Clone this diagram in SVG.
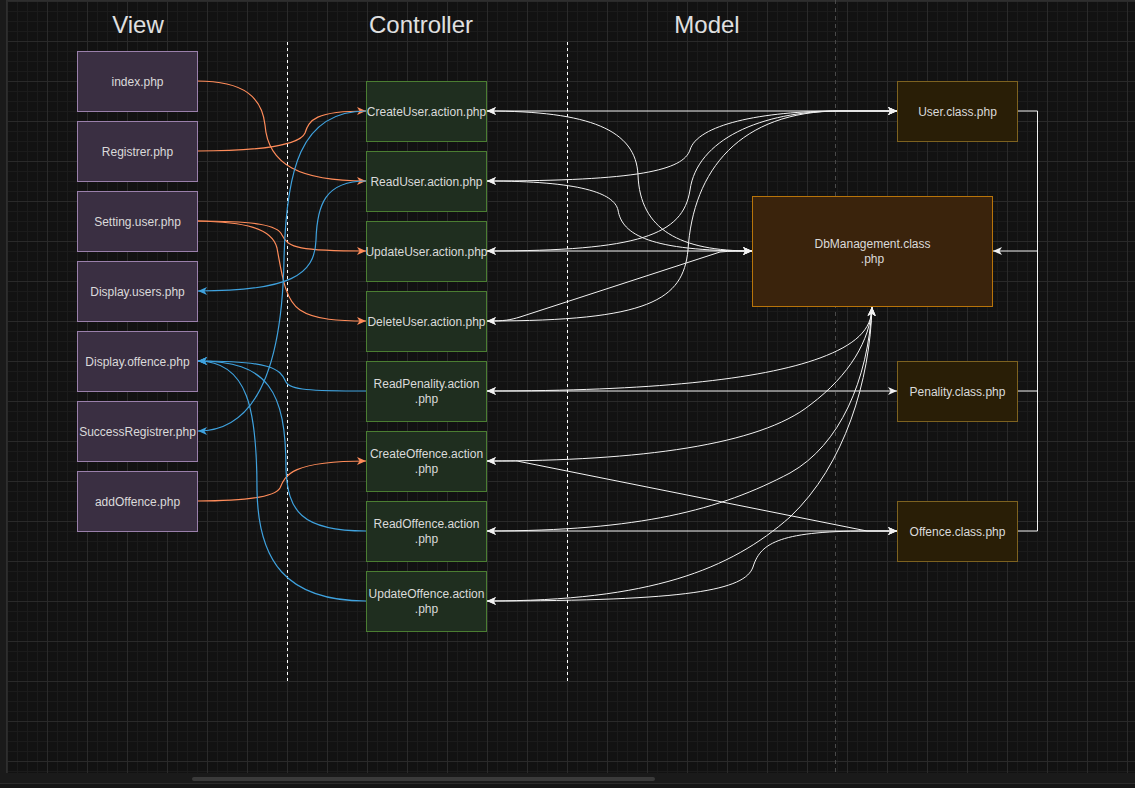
<svg xmlns="http://www.w3.org/2000/svg" width="1135" height="788" viewBox="0 0 1135 788">
  <defs>
    <pattern id="grid" patternUnits="userSpaceOnUse" x="7" y="1" width="40" height="40">
      <path d="M10.5 0V40M20.5 0V40M30.5 0V40M0 10.5H40M0 20.5H40M0 30.5H40" stroke="#1b1b1b" stroke-width="1" fill="none"/>
      <path d="M0.5 0V40M0 0.5H40" stroke="#2a2a2a" stroke-width="1" fill="none"/>
    </pattern>
    <marker id="aw" markerUnits="userSpaceOnUse" markerWidth="10" markerHeight="9" refX="9" refY="4.5" orient="auto-start-reverse">
      <path d="M0,0.5 L9,4.5 L0,8.5 L2.5,4.5 Z" fill="#f2f2f2"/>
    </marker>
    <marker id="ao" markerUnits="userSpaceOnUse" markerWidth="10" markerHeight="9" refX="9" refY="4.5" orient="auto">
      <path d="M0,0.5 L9,4.5 L0,8.5 L2.5,4.5 Z" fill="#ff8c5a"/>
    </marker>
    <marker id="ab" markerUnits="userSpaceOnUse" markerWidth="10" markerHeight="9" refX="9" refY="4.5" orient="auto">
      <path d="M0,0.5 L9,4.5 L0,8.5 L2.5,4.5 Z" fill="#3fa2de"/>
    </marker>
  </defs>
  <style>
    text { font-family: "Liberation Sans", Arial, sans-serif; fill: #dadada; font-size: 12px; text-anchor: middle; dominant-baseline: central; }
    .hdr { font-size: 24px; fill: #e0e0e0; }
    .view rect { fill: #3a2f42; stroke: #9a80ab; stroke-width: 1; }
    .ctrl rect { fill: #1f2e1f; stroke: #4b7e32; stroke-width: 1; }
    .cls rect { fill: #291e06; stroke: #7d6220; stroke-width: 1; }
    .db rect { fill: #3a230c; stroke: #b8740a; stroke-width: 1; }
    .w { fill: none; stroke: #f2f2f2; stroke-width: 1; }
    .o { fill: none; stroke: #ff8c5a; stroke-width: 1.2; marker-end: url(#ao); }
    .b { fill: none; stroke: #3fa2de; stroke-width: 1.2; }
  </style>

  <!-- workspace frame -->
  <rect x="0" y="0" width="1135" height="788" fill="#1a1a1a"/>
  <rect x="7" y="0" width="1128" height="773" fill="#121212"/>
  <rect x="7" y="0" width="1128" height="773" fill="url(#grid)"/>
  <line x1="6.5" y1="0" x2="6.5" y2="773" stroke="#2e2e2e"/>
  <line x1="7" y1="0.5" x2="1135" y2="0.5" stroke="#2e2e2e"/>
  <rect x="192" y="777" width="463" height="4" rx="2" fill="#3a3a3a"/>
  <line x1="0" y1="783.5" x2="1135" y2="783.5" stroke="#2c2c2c"/>
  <rect x="0" y="784" width="1135" height="4" fill="#151515"/>

  <!-- page break -->
  <line x1="835.5" y1="0" x2="835.5" y2="773" stroke="#4a4a4a" stroke-dasharray="4 4"/>

  <!-- lane separators -->
  <line x1="287.5" y1="42" x2="287.5" y2="682" stroke="#ffffff" stroke-dasharray="3 3"/>
  <line x1="567.5" y1="42" x2="567.5" y2="682" stroke="#ffffff" stroke-dasharray="3 3"/>

  <!-- lane headers -->
  <text class="hdr" x="138" y="24">View</text>
  <text class="hdr" x="421" y="24">Controller</text>
  <text class="hdr" x="707" y="24">Model</text>

  <!-- connectors -->
  <g id="connectors">
    <!-- view -> controller -->
    <path class="o" d="M197,81 C245,81 262,98 265,125 C268,165 300,181 366,181"/>
    <path class="o" d="M197,151 C260,151 300,145 305,133 C309,120 315,111 366,111"/>
    <path class="o" d="M197,221 C255,221 278,225 282,235 C288,248 300,251 366,251"/>
    <path class="o" d="M197,221 C245,222 272,228 277,248 C282,275 285,300 300,310 C315,320 340,321 366,321"/>
    <path class="o" d="M197,501 C245,501 275,497 280,488 C285,475 292,461 366,461"/>

    <!-- controller -> view -->
    <path class="b" marker-end="url(#ab)" d="M366,111 C300,111 286,170 284,260 C282,360 260,431 198,431"/>
    <path class="b" marker-end="url(#ab)" d="M366,181 C325,181 317,205 316,240 C315,275 290,291 198,291"/>
    <path class="b" marker-end="url(#ab)" d="M366,391 C310,391 290,390 286,382 C280,368 270,361 198,361"/>
    <path class="b" marker-end="url(#ab)" d="M366,531 C300,531 288,510 286,470 C286,390 268,361 198,361"/>
    <path class="b" marker-end="url(#ab)" d="M366,601 C285,601 258,560 257,490 C257,410 248,361 198,361"/>

    <!-- controller <-> User.class -->
    <path class="w" marker-start="url(#aw)" marker-end="url(#aw)" d="M487,111 L897,111"/>
    <path class="w" marker-start="url(#aw)" marker-end="url(#aw)" d="M487,181 C640,181 683,170 690,150 C697,125 760,111 840,111 L897,111"/>
    <path class="w" marker-start="url(#aw)" marker-end="url(#aw)" d="M487,251 C640,251 683,235 690,190 C697,140 760,111 840,111 L897,111"/>
    <path class="w" marker-start="url(#aw)" marker-end="url(#aw)" d="M487,321 C650,321 683,300 688,250 C693,170 740,111 840,111 L897,111"/>

    <!-- controller <-> DbManagement (left) -->
    <path class="w" marker-start="url(#aw)" marker-end="url(#aw)" d="M487,111 C590,111 636,130 638,175 C640,230 680,251 752,251"/>
    <path class="w" marker-start="url(#aw)" marker-end="url(#aw)" d="M487,181 C580,181 614,193 618,210 C622,235 650,251 752,251"/>
    <path class="w" marker-start="url(#aw)" marker-end="url(#aw)" d="M487,251 L752,251"/>
    <path class="w" marker-start="url(#aw)" marker-end="url(#aw)" d="M487,321 C505,321 510,320 520,317 L720,252 C730,251 740,251 752,251"/>

    <!-- controller <-> DbManagement (bottom) -->
    <path class="w" marker-start="url(#aw)" marker-end="url(#aw)" d="M487,391 C650,391 760,380 820,358 C855,345 872,330 872,307"/>
    <path class="w" marker-start="url(#aw)" marker-end="url(#aw)" d="M487,461 C640,461 760,445 810,405 C850,375 870,340 872,307"/>
    <path class="w" marker-start="url(#aw)" marker-end="url(#aw)" d="M487,531 C640,531 720,510 790,473 C840,445 868,380 872,307"/>
    <path class="w" marker-start="url(#aw)" marker-end="url(#aw)" d="M487,601 C650,601 730,570 790,517 C845,465 870,380 872,307"/>

    <!-- controller <-> Penality.class / Offence.class -->
    <path class="w" marker-start="url(#aw)" marker-end="url(#aw)" d="M487,391 L897,391"/>
    <path class="w" marker-start="url(#aw)" marker-end="url(#aw)" d="M487,461 C505,461 510,461 517,461 L867,531 L897,531"/>
    <path class="w" marker-start="url(#aw)" marker-end="url(#aw)" d="M487,531 L897,531"/>
    <path class="w" marker-start="url(#aw)" marker-end="url(#aw)" d="M487,601 C690,601 745,590 753,567 C760,545 775,531 867,531 L897,531"/>

    <!-- classes -> DbManagement -->
    <path class="w" d="M1017,111 H1037.5 V531 H1017 M1017,391 H1037.5"/>
    <path class="w" marker-end="url(#aw)" d="M1037.5,251 H993"/>
  </g>

  <!-- view nodes -->
  <g id="view-index" class="view"><rect x="77.5" y="51.5" width="120" height="60"/><text x="137.5" y="81.5">index.php</text></g>
  <g id="view-registrer" class="view"><rect x="77.5" y="121.5" width="120" height="60"/><text x="137.5" y="151.5">Registrer.php</text></g>
  <g id="view-setting-user" class="view"><rect x="77.5" y="191.5" width="120" height="60"/><text x="137.5" y="221.5">Setting.user.php</text></g>
  <g id="view-display-users" class="view"><rect x="77.5" y="261.5" width="120" height="60"/><text x="137.5" y="291.5">Display.users.php</text></g>
  <g id="view-display-offence" class="view"><rect x="77.5" y="331.5" width="120" height="60"/><text x="137.5" y="361.5">Display.offence.php</text></g>
  <g id="view-success-registrer" class="view"><rect x="77.5" y="401.5" width="120" height="60"/><text x="137.5" y="431.5">SuccessRegistrer.php</text></g>
  <g id="view-add-offence" class="view"><rect x="77.5" y="471.5" width="120" height="60"/><text x="137.5" y="501.5">addOffence.php</text></g>

  <!-- controller nodes -->
  <g id="ctrl-create-user" class="ctrl"><rect x="366.5" y="81.5" width="120" height="60"/><text x="426.5" y="111.5">CreateUser.action.php</text></g>
  <g id="ctrl-read-user" class="ctrl"><rect x="366.5" y="151.5" width="120" height="60"/><text x="426.5" y="181.5">ReadUser.action.php</text></g>
  <g id="ctrl-update-user" class="ctrl"><rect x="366.5" y="221.5" width="120" height="60"/><text x="426.5" y="251.5">UpdateUser.action.php</text></g>
  <g id="ctrl-delete-user" class="ctrl"><rect x="366.5" y="291.5" width="120" height="60"/><text x="426.5" y="321.5">DeleteUser.action.php</text></g>
  <g id="ctrl-read-penality" class="ctrl"><rect x="366.5" y="361.5" width="120" height="60"/><text x="426.5" y="384">ReadPenality.action</text><text x="426.5" y="399">.php</text></g>
  <g id="ctrl-create-offence" class="ctrl"><rect x="366.5" y="431.5" width="120" height="60"/><text x="426.5" y="454">CreateOffence.action</text><text x="426.5" y="469">.php</text></g>
  <g id="ctrl-read-offence" class="ctrl"><rect x="366.5" y="501.5" width="120" height="60"/><text x="426.5" y="524">ReadOffence.action</text><text x="426.5" y="539">.php</text></g>
  <g id="ctrl-update-offence" class="ctrl"><rect x="366.5" y="571.5" width="120" height="60"/><text x="426.5" y="594">UpdateOffence.action</text><text x="426.5" y="609">.php</text></g>

  <!-- model nodes -->
  <g id="model-user" class="cls"><rect x="897.5" y="81.5" width="120" height="60"/><text x="957.5" y="111.5">User.class.php</text></g>
  <g id="model-db" class="db"><rect x="752.5" y="196.5" width="240" height="110"/><text x="872.5" y="244">DbManagement.class</text><text x="872.5" y="259">.php</text></g>
  <g id="model-penality" class="cls"><rect x="897.5" y="361.5" width="120" height="60"/><text x="957.5" y="391.5">Penality.class.php</text></g>
  <g id="model-offence" class="cls"><rect x="897.5" y="501.5" width="120" height="60"/><text x="957.5" y="531.5">Offence.class.php</text></g>
</svg>
